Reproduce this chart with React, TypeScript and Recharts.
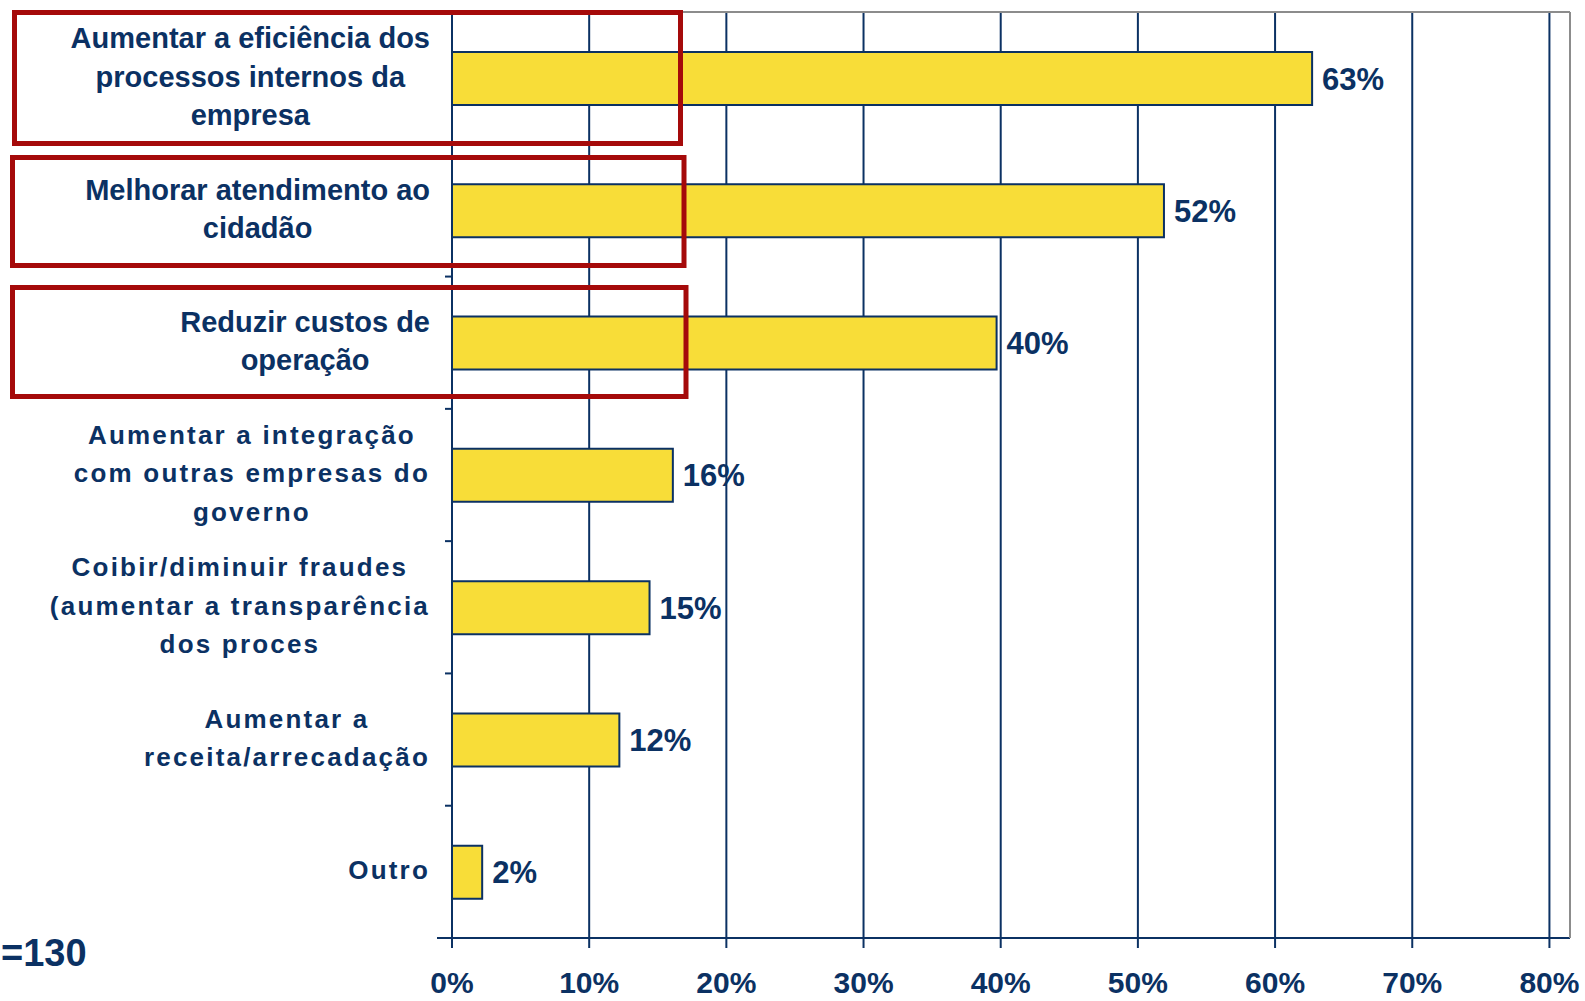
import { BarChart, Bar, XAxis, YAxis, CartesianGrid, LabelList } from 'recharts';

const categories = [
  'Aumentar a eficiência dos\nprocessos internos da\nempresa',
  'Melhorar atendimento ao\ncidadão',
  'Reduzir custos de\noperação',
  'Aumentar a integração\ncom outras empresas do\ngoverno',
  'Coibir/diminuir fraudes\n(aumentar a transparência\ndos proces',
  'Aumentar a\nreceita/arrecadação',
  'Outro',
];
const values = [62.7, 51.9, 39.7, 16.1, 14.4, 12.2, 2.2];
const valueLabels = ['63%', '52%', '40%', '16%', '15%', '12%', '2%'];
const xTicks = [0, 10, 20, 30, 40, 50, 60, 70, 80];

const data = categories.map((name, i) => ({ name, value: values[i], label: valueLabels[i] }));

const NAVY = '#0b3163';
const YELLOW = '#f8dd38';
const FONT = '"Liberation Sans", Arial, sans-serif';
const W = 1585;
const H = 1001;
const X_AXIS_H = 63;
const M = { top: 12, right: 15, bottom: 0, left: 0 };
const BAND = (H - M.top - X_AXIS_H) / categories.length;

let ctx: CanvasRenderingContext2D | null = null;
function textWidth(s: string, font: string, ls: number) {
  if (!ctx) ctx = document.createElement('canvas').getContext('2d');
  if (!ctx) return s.length * 14;
  ctx.font = font;
  return ctx.measureText(s).width + ls * s.length;
}

function CategoryTick(props: any) {
  const { x, y, payload, index } = props;
  const lines: string[] = String(payload.value).split('\n');
  const big = index < 3;
  const fs = big ? 29 : 26;
  const ls = big ? 0 : 2.2;
  const maxW = Math.max(...lines.map(l => textWidth(l, `bold ${fs}px ${FONT}`, ls)));
  const cx = x - maxW / 2;
  const axisX = x + 22;
  const n = lines.length;
  return (
    <g>
      {lines.map((l, i) => (
        <text
          key={i}
          x={cx}
          y={y - 2 + (i - (n - 1) / 2) * 38.5}
          dy="0.36em"
          textAnchor="middle"
          fill={NAVY}
          fontFamily={FONT}
          fontWeight="bold"
          fontSize={fs}
          letterSpacing={ls}
        >
          {l}
        </text>
      ))}
      {index < categories.length - 1 && (
        <line x1={axisX - 7} x2={axisX} y1={y + BAND / 2} y2={y + BAND / 2} stroke={NAVY} strokeWidth={2} />
      )}
    </g>
  );
}

function PercentTick(props: any) {
  const { x, y, payload } = props;
  return (
    <text x={x} y={y} dy={45} textAnchor="middle" fill={NAVY} fontFamily={FONT} fontWeight="bold" fontSize={30}>
      {payload.value}%
    </text>
  );
}

export default function App() {
  return (
    <div style={{ position: 'absolute', left: 0, top: 0, width: W, height: H, background: '#fff' }}>
      <BarChart width={W} height={H} data={data} layout="vertical" margin={M} barCategoryGap={0}>
        <CartesianGrid horizontal={false} stroke={NAVY} strokeWidth={2} strokeOpacity={1} />
        <XAxis
          type="number"
          domain={[0, 81.5]}
          ticks={xTicks}
          interval={0}
          tickSize={10}
          tickMargin={0}
          axisLine={{ stroke: NAVY, strokeWidth: 2 }}
          tickLine={{ stroke: NAVY, strokeWidth: 2 }}
          tick={<PercentTick />}
          height={X_AXIS_H}
        />
        <YAxis
          type="category"
          dataKey="name"
          width={452}
          interval={0}
          tickSize={0}
          tickMargin={22}
          axisLine={{ stroke: NAVY, strokeWidth: 2 }}
          tickLine={false}
          tick={<CategoryTick />}
        />
        <Bar dataKey="value" fill={YELLOW} stroke={NAVY} strokeWidth={2} barSize={53} isAnimationActive={false}>
          <LabelList
            dataKey="label"
            position="right"
            offset={10}
            fill={NAVY}
            fontFamily={FONT}
            fontWeight="bold"
            fontSize={31}
          />
        </Bar>
      </BarChart>
      <svg width={W} height={H} style={{ position: 'absolute', left: 0, top: 0, pointerEvents: 'none' }}>
        <line x1={452} y1={12} x2={1570} y2={12} stroke="#8c8c8c" strokeWidth={2} />
        <line x1={1570} y1={12} x2={1570} y2={938} stroke="#8c8c8c" strokeWidth={2} />
        <line x1={437} y1={938} x2={452} y2={938} stroke={NAVY} strokeWidth={2} />
        <rect x={14.5} y={12.5} width={666} height={131} fill="none" stroke="#a50a0a" strokeWidth={5} />
        <rect x={12.5} y={157.5} width={671.5} height={108} fill="none" stroke="#a50a0a" strokeWidth={5} />
        <rect x={12.5} y={287.5} width={673.5} height={109} fill="none" stroke="#a50a0a" strokeWidth={5} />
        <text x={1} y={966} textAnchor="start" fill={NAVY} fontFamily={FONT} fontWeight="bold" fontSize={38}>
          =130
        </text>
      </svg>
    </div>
  );
}
